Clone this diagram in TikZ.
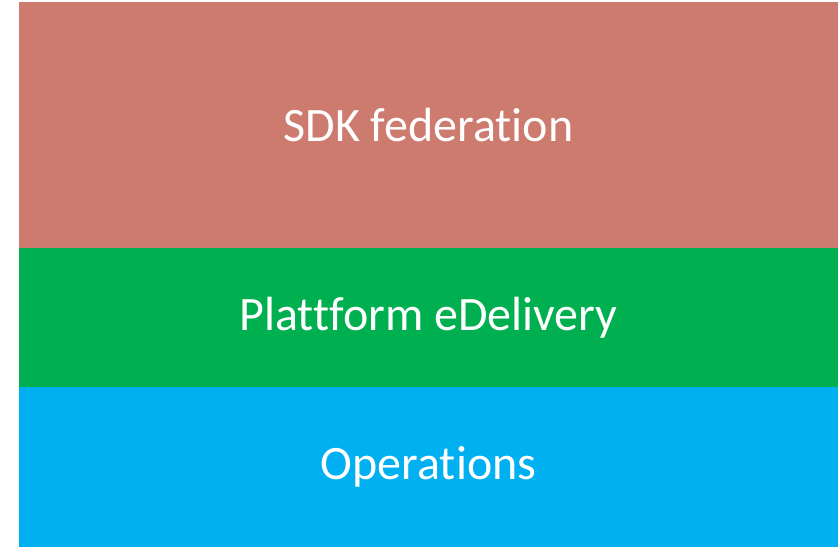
\documentclass[tikz,border=0pt]{standalone}
\usepackage{fontspec}
\setmainfont{Carlito}[Ligatures=NoCommon]
\usetikzlibrary{positioning}
\definecolor{sdkred}{HTML}{CD7B6F}
\definecolor{platgreen}{HTML}{00B050}
\definecolor{opsblue}{HTML}{00B0F0}
\tikzset{layer/.style={inner sep=0pt, outer sep=0pt, minimum width=819pt,
  text=white, font=\fontsize{48}{58}\selectfont}}

\begin{document}
\begin{tikzpicture}[x=1pt,y=1pt]
\useasboundingbox (0,0) rectangle (838,-547);
% the three stacked layers, top to bottom
\node [layer, fill=sdkred, minimum height=246pt, anchor=north west] (sdk) at (19,-2) {SDK federation};
\node [layer, fill=platgreen, minimum height=139pt, below=0pt of sdk] (plattform) {Plattform eDelivery};
\node [layer, fill=opsblue, minimum height=160pt, below=0pt of plattform] (ops) {Operations};
\end{tikzpicture}
\end{document}
